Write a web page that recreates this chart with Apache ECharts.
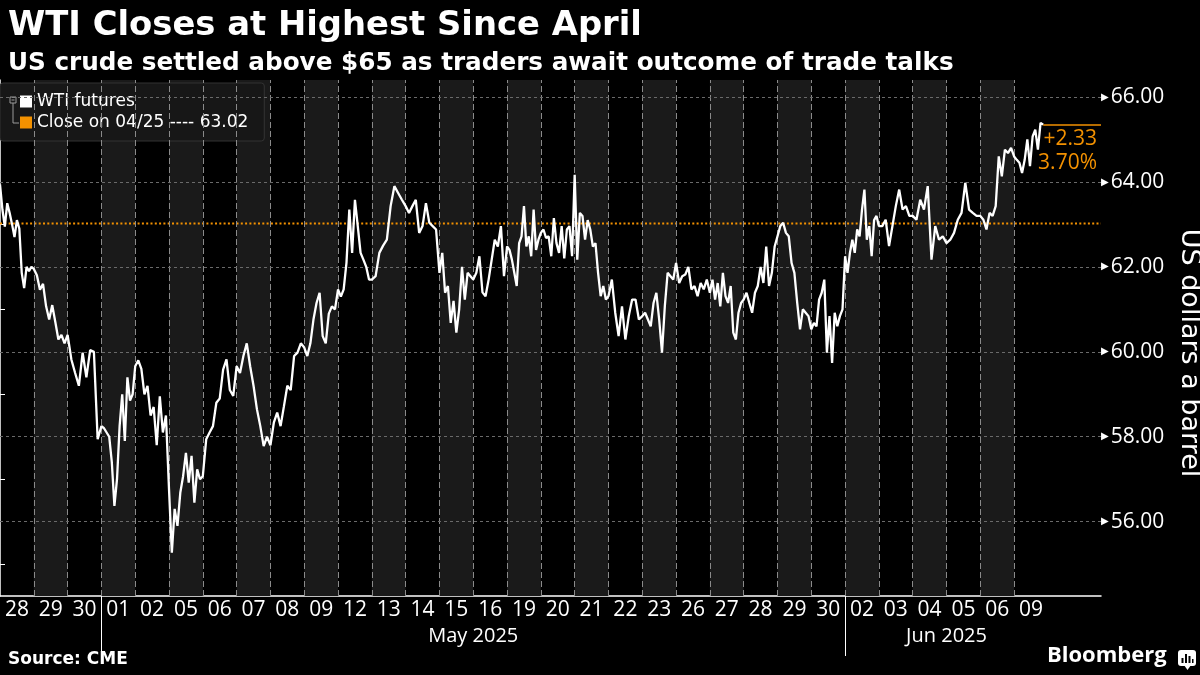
<!DOCTYPE html>
<html>
<head>
<meta charset="utf-8">
<script src="https://cdn.jsdelivr.net/npm/echarts@6/dist/echarts.min.js"></script>
<style>
html,body{margin:0;padding:0;background:#000;}
#chart{width:1200px;height:675px;}
</style>
</head>
<body>
<div id="chart"></div>
<script>
// ---- data ----
const titleText = 'WTI Closes at Highest Since April';
const subtitleText = 'US crude settled above $65 as traders await outcome of trade talks';
const sourceText = 'Source: CME';
const dayLabels = ['28','29','30','01','02','05','06','07','08','09','12','13','14','15','16','19','20','21','22','23','26','27','28','29','30','02','03','04','05','06','09'];
const monthNames = ['May 2025', 'Jun 2025'];
const monthStartIdx = [3, 25];
const monthEndIdx = [25, 31];
const yTickLabels = [56, 58, 60, 62, 64, 66];
const yMinorTicks = [55, 57, 59, 61, 63, 65];
const refClose = 63.02;
const refName = 'Close on 04/25 ---- 63.02';
const seriesName = 'WTI futures';
const lastSessionFraction = 0.86;

// intraday prices per trading session (in time order)
const apr28 = [63.94, 63.35, 62.95, 63.5, 63.27, 63.0, 62.7, 63.1, 62.9, 61.86, 61.5, 62.0, 61.9, 62.0];
const apr29 = [61.95, 61.8, 61.46, 61.6, 61.07, 60.76, 61.1, 60.7, 60.29, 60.4, 60.2];
const apr30 = [60.4, 59.82, 59.5, 59.2, 59.98, 59.4, 60.04, 60.0, 57.94];
const may01 = [58.25, 58.2, 58.1, 58.0, 57.4, 56.37, 57.0, 58.25, 59.0, 57.9, 59.4, 58.85, 59.0];
const may02 = [59.66, 59.8, 59.6, 59.0, 59.2, 58.5, 58.7, 57.8, 58.95, 58.1, 58.5];
const may05 = [56.76, 55.27, 56.3, 55.9, 56.68, 57.07, 57.62, 56.92, 57.55, 56.45, 57.23, 57.0];
const may06 = [57.07, 57.94, 58.1, 58.25, 58.8, 58.9, 59.58, 59.82, 59.1, 58.96];
const may07 = [59.66, 59.5, 59.9, 60.2, 59.66, 59.2, 58.65, 58.25, 57.78, 58.0];
const may08 = [57.8, 58.33, 58.57, 58.25, 58.72, 59.2, 59.1, 59.9, 59.98, 60.2];
const may09 = [60.1, 59.9, 60.2, 60.76, 61.15, 61.39, 60.37, 60.2, 60.9, 61.07, 61.0];
const may12 = [61.47, 61.3, 61.47, 62.1, 63.35, 62.33, 63.58, 62.96, 62.33, 62.17, 62.0, 61.7];
const may13 = [61.7, 61.78, 62.33, 62.5, 62.64, 63.43, 63.9, 63.74, 63.58];
const may14 = [63.43, 63.27, 63.43, 63.58, 62.8, 62.96, 63.5, 63.04, 62.96, 62.88];
const may15 = [61.86, 62.33, 61.39, 61.55, 60.68, 61.2, 60.45, 61.0, 62.0, 61.23, 61.86, 61.78];
const may16 = [61.7, 61.86, 62.25, 61.4, 61.31, 61.7, 62.17, 62.64, 62.48, 62.96, 61.78];
const may19 = [62.48, 62.4, 62.17, 61.86, 61.55, 62.56, 62.72, 63.43, 62.48, 62.72, 62.25, 63.35, 62.4, 62.64];
const may20 = [62.8, 62.88, 62.68, 62.72, 62.25, 63.15, 62.56, 62.33, 62.96, 62.2, 62.88, 62.96, 62.25];
const may21 = [64.17, 62.17, 63.27, 63.2, 62.64, 63.1, 62.88, 62.48, 62.56, 61.86, 61.31, 61.55, 61.23];
const may22 = [61.31, 61.7, 60.92, 60.37, 61.07, 60.29, 60.84, 61.23, 61.23, 60.76];
const may23 = [60.84, 60.92, 60.76, 60.6, 61.15, 61.39, 60.76, 59.98, 61.07, 61.86, 61.78, 61.7];
const may26 = [62.09, 61.62, 61.78, 61.82, 62.0, 61.47, 61.55, 61.31, 61.62, 61.47, 61.7];
const may27 = [61.39, 61.7, 61.23, 61.62, 61.07, 61.86, 61.31, 61.15, 61.55, 60.45, 60.29, 60.92, 61.15];
const may28 = [61.23, 61.39, 61.15, 60.92, 61.39, 61.55, 62.0, 61.62, 62.48, 61.55, 61.86, 62.48];
const may29 = [62.72, 62.96, 63.04, 62.8, 62.72, 62.09, 61.86, 61.15, 60.53, 61.0, 60.92, 60.84];
const may30 = [60.53, 60.68, 60.6, 61.23, 61.39, 61.7, 59.98, 60.84, 59.74, 60.92, 60.6, 60.84, 61.0];
const jun02 = [62.25, 61.86, 62.33, 62.64, 62.33, 62.88, 62.72, 63.35, 63.82, 62.64, 62.96, 62.25, 63.1, 63.2];
const jun03 = [62.96, 62.96, 63.11, 62.49, 62.96, 63.43, 63.82, 63.35, 63.43, 63.2];
const jun04 = [63.2, 63.11, 63.58, 63.35, 63.9, 62.17, 62.96, 62.64, 62.72];
const jun05 = [62.56, 62.64, 62.8, 63.11, 63.27, 63.98, 63.35, 63.27, 63.2];
const jun06 = [63.2, 63.11, 62.88, 63.27, 63.2, 63.43, 64.6, 64.13, 64.76, 64.68, 64.8];
const jun09 = [64.6, 64.52, 64.45, 64.21, 64.52, 65.0, 64.37, 65.07, 65.23, 64.76, 65.39, 65.35];

const sessions = [apr28, apr29, apr30, may01, may02, may05, may06, may07, may08, may09, may12, may13, may14, may15, may16, may19, may20, may21, may22, may23, may26, may27, may28, may29, may30, jun02, jun03, jun04, jun05, jun06, jun09];

// ---- build ----
const ORANGE = '#f39100';
const xMax = 32.57;
const points = [];
sessions.forEach(function (arr, i) {
  const last = i === sessions.length - 1;
  arr.forEach(function (v, k) {
    const x = last ? i + lastSessionFraction * k / (arr.length - 1) : i + k / arr.length;
    points.push([x, v]);
  });
});
const lastPt = points[points.length - 1];
const change = lastPt[1] - refClose;
const pct = change / refClose * 100;

const bands = [];
const vLines = [];
for (let i = 0; i < sessions.length; i++) {
  if (i % 2 === 1) bands.push([{ xAxis: i }, { xAxis: i + 1 }]);
  if (i > 0) vLines.push({ xAxis: i, lineStyle: { color: '#8a8a8a', type: [6, 3], width: 1 } });
}
const hLines = yTickLabels.map(function (v) {
  return { yAxis: v, lineStyle: { color: '#6a6a6a', type: [3, 3], width: 1 } };
});
const dayLabelPos = dayLabels.map(function (d, i) { return i + 0.5; });
const monthPos = monthNames.map(function (m, i) { return (monthStartIdx[i] + monthEndIdx[i]) / 2; });

const chart = echarts.init(document.getElementById('chart'));
chart.setOption({
  backgroundColor: '#000',
  animation: false,
  textStyle: { fontFamily: 'Open Sans' },
  title: [
    { text: titleText, left: 3, top: 4, textStyle: { color: '#fff', fontSize: 33.8, fontWeight: 'bold', fontFamily: 'DejaVu Sans' } },
    { text: subtitleText, left: 3, top: 46, textStyle: { color: '#fff', fontSize: 24.7, fontWeight: 'bold', fontFamily: 'DejaVu Sans' } }
  ],
  legend: {
    data: [seriesName, refName],
    orient: 'vertical',
    left: 0, top: 83,
    backgroundColor: '#171717',
    borderColor: '#333',
    borderWidth: 1,
    borderRadius: 3,
    padding: [10, 16, 10, 20],
    itemWidth: 12, itemHeight: 12, itemGap: 4,
    icon: 'rect',
    selectedMode: false,
    textStyle: { color: '#fff', fontSize: 17, fontFamily: 'DejaVu Sans' }
  },
  grid: { left: 0, right: 99, top: 80, bottom: 79, outerBoundsMode: 'none', containLabel: false },
  xAxis: [
    {
      type: 'value', min: 0, max: xMax,
      axisLine: { show: true, lineStyle: { color: '#fff', width: 1.5 } },
      axisTick: { show: true, customValues: monthStartIdx, length: 60, lineStyle: { color: '#fff', width: 1 } },
      axisLabel: {
        customValues: dayLabelPos, color: '#fff', fontSize: 21, margin: 4,
        formatter: function (v) { return dayLabels[Math.floor(v)]; }
      },
      splitLine: { show: false }
    },
    {
      type: 'value', min: 0, max: xMax, position: 'bottom', offset: 26,
      axisLine: { show: false }, axisTick: { show: false }, splitLine: { show: false },
      axisLabel: {
        customValues: monthPos, color: '#fff', fontSize: 20, margin: 4,
        formatter: function (v) { return monthNames[monthPos.indexOf(v)]; }
      }
    }
  ],
  yAxis: {
    type: 'value', position: 'right', min: 54.25, max: 66.4,
    name: 'US dollars a barrel', nameLocation: 'middle', nameRotate: -90, nameGap: 67,
    nameTextStyle: { color: '#fff', fontSize: 27, fontFamily: 'DejaVu Sans', padding: [0, 0, 0, 30] },
    axisLine: { show: true, lineStyle: { color: '#fff', width: 1.5 } },
    axisTick: { show: true, customValues: yMinorTicks, length: 5, lineStyle: { color: '#fff' } },
    axisLabel: {
      customValues: yTickLabels, margin: 0, color: '#fff',
      formatter: function (v) { return '{t|▶}{v|' + v.toFixed(2) + '}'; },
      rich: {
        t: { fontSize: 10, fontFamily: 'DejaVu Sans', color: '#fff', padding: [0, 2, 0, 0], verticalAlign: 'middle' },
        v: { fontSize: 21, fontFamily: 'Open Sans', color: '#fff', verticalAlign: 'middle' }
      }
    },
    splitLine: { show: false }
  },
  series: [
    {
      type: 'line', data: [], silent: true,
      markArea: { silent: true, itemStyle: { color: '#1a1a1a' }, data: bands },
      markLine: { silent: true, symbol: ['none', 'none'], label: { show: false }, data: vLines.concat(hLines) },
      z: 1
    },
    {
      name: refName, type: 'line', data: [[0, refClose], [xMax, refClose]],
      symbol: 'none', lineStyle: { color: ORANGE, type: [2, 2.3], width: 2 },
      itemStyle: { color: ORANGE }, z: 3
    },
    {
      name: seriesName, type: 'line', data: points, symbol: 'none', showSymbol: false,
      lineStyle: { color: '#fff', width: 2.3 }, itemStyle: { color: '#fff' }, z: 5,
      markLine: {
        silent: true, symbol: ['none', 'none'],
        lineStyle: { color: ORANGE, type: 'solid', width: 1.5 },
        label: {
          show: true, position: 'insideEndBottom', color: ORANGE, fontSize: 21, lineHeight: 24,
          fontFamily: 'Open Sans', distance: [4, 2],
          formatter: function () { return (change >= 0 ? '+' : '') + change.toFixed(2) + '\n' + pct.toFixed(2) + '%'; }
        },
        data: [[{ coord: lastPt }, { coord: [xMax, lastPt[1]] }]]
      }
    }
  ],
  graphic: [
    { type: 'rect', shape: { x: 10, y: 97, width: 6, height: 6 }, style: { fill: 'none', stroke: '#9a9a9a', lineWidth: 1 }, z: 100 },
    { type: 'line', shape: { x1: 11.5, y1: 100, x2: 14.5, y2: 100 }, style: { stroke: '#9a9a9a', lineWidth: 1 }, z: 100 },
    { type: 'polyline', shape: { points: [[13, 103], [13, 123], [19, 123]] }, style: { fill: 'none', stroke: '#9a9a9a', lineWidth: 1 }, z: 100 },
    { type: 'text', left: 8, top: 651, style: { text: sourceText, fill: '#fff', fontSize: 17, fontWeight: 'bold', fontFamily: 'DejaVu Sans' } },
    { type: 'text', left: 1047, top: 645, style: { text: 'Bloomberg', fill: '#fff', fontSize: 22, fontWeight: 'bold', fontFamily: 'Open Sans' } },
    { type: 'rect', shape: { x: 1178, y: 650, width: 18, height: 16, r: 3 }, style: { fill: '#fff' } },
    { type: 'polygon', shape: { points: [[1184, 665], [1191, 665], [1187.5, 670]] }, style: { fill: '#fff' } },
    { type: 'rect', shape: { x: 1181.5, y: 658, width: 2, height: 5 }, style: { fill: '#000' } },
    { type: 'rect', shape: { x: 1185, y: 654, width: 2, height: 9 }, style: { fill: '#000' } },
    { type: 'rect', shape: { x: 1188.5, y: 656, width: 2, height: 7 }, style: { fill: '#000' } },
    { type: 'rect', shape: { x: 1192, y: 659, width: 1.5, height: 4 }, style: { fill: '#000' } }
  ]
});
</script>
</body>
</html>
